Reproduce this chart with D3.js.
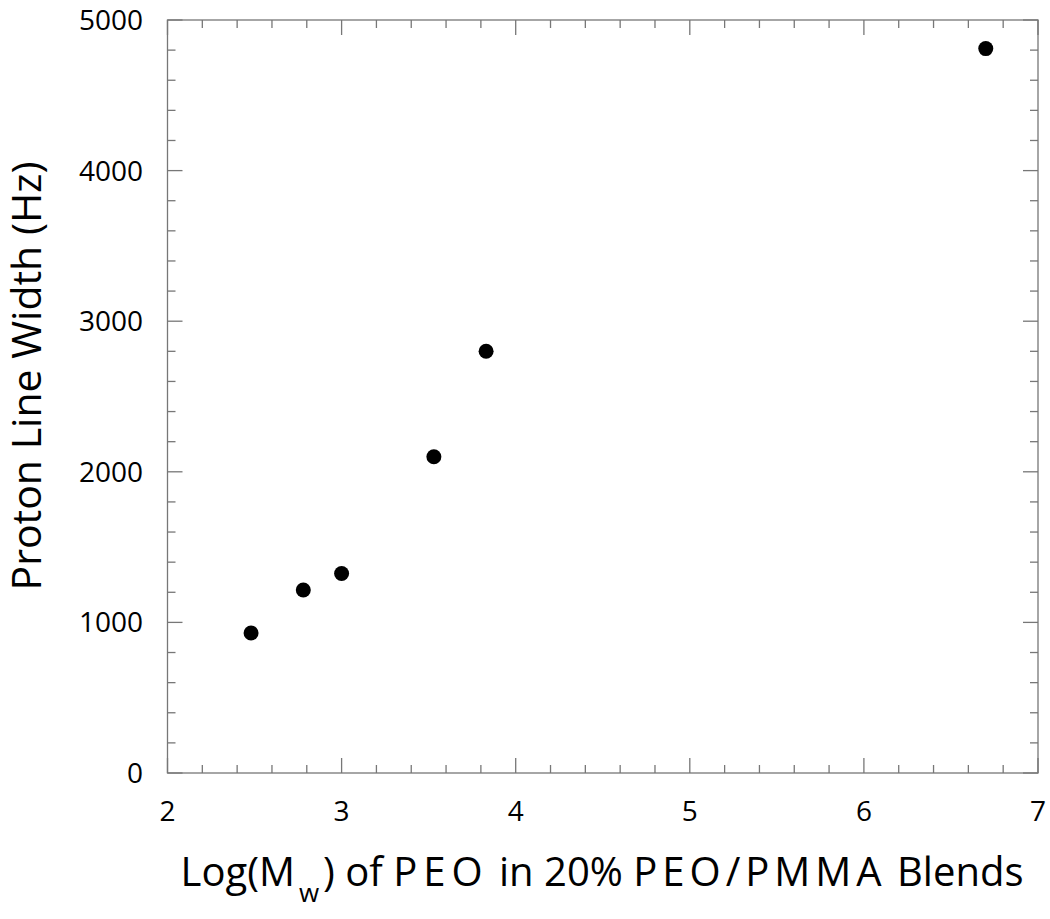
<!DOCTYPE html>
<html>
<head>
<meta charset="utf-8">
<script src="https://cdn.jsdelivr.net/npm/d3@7"></script>
<style>
  body { margin: 0; background: #fff; }
  svg { font-family: "Open Sans", "DejaVu Sans", sans-serif; }
</style>
</head>
<body>
<svg width="1050" height="919"></svg>
<script>
// data
var logMw = [2.48, 2.78, 3.0, 3.53, 3.83, 6.70];
var lineWidth = [930, 1215, 1325, 2100, 2800, 4810];
var xTicks = [2, 3, 4, 5, 6, 7];
var yTicks = [0, 1000, 2000, 3000, 4000, 5000];

var svg = d3.select("svg");
var pL = 167.5, pR = 1038, pT = 20, pB = 773;
var axisCol = "#777";

var x = d3.scaleLinear().domain([2, 7]).range([pL, pR]);
var y = d3.scaleLinear().domain([0, 5000]).range([pB, pT]);

// cadre
svg.append("rect").attr("x", pL).attr("y", pT)
  .attr("width", pR - pL).attr("height", pB - pT)
  .attr("fill", "none").attr("stroke", axisCol).attr("stroke-width", 1.3);

var majLen = 15, minLen = 8;
var xMinor = d3.range(2, 7.001, 0.2);
var yMinor = d3.range(0, 5000.1, 200);

// ticks x, bas et haut, vers l'interieur
xMinor.forEach(function(v) {
  var isMaj = Math.abs(v - Math.round(v)) < 1e-6;
  var len = isMaj ? majLen : minLen;
  svg.append("line").attr("x1", x(v)).attr("x2", x(v))
    .attr("y1", pB).attr("y2", pB - len)
    .attr("stroke", axisCol).attr("stroke-width", 1.3);
  svg.append("line").attr("x1", x(v)).attr("x2", x(v))
    .attr("y1", pT).attr("y2", pT + len)
    .attr("stroke", axisCol).attr("stroke-width", 1.3);
});

// ticks y, gauche et droite
yMinor.forEach(function(v) {
  var isMaj = v % 1000 === 0;
  var len = isMaj ? majLen : minLen;
  svg.append("line").attr("x1", pL).attr("x2", pL + len)
    .attr("y1", y(v)).attr("y2", y(v))
    .attr("stroke", axisCol).attr("stroke-width", 1.3);
  svg.append("line").attr("x1", pR).attr("x2", pR - len)
    .attr("y1", y(v)).attr("y2", y(v))
    .attr("stroke", axisCol).attr("stroke-width", 1.3);
});

// labels des ticks
svg.selectAll(".xl").data(xTicks).enter().append("text")
  .attr("x", function(d) { return x(d); }).attr("y", 821)
  .attr("text-anchor", "middle").attr("font-size", 28).attr("fill", "#000")
  .text(function(d) { return d; });

svg.selectAll(".yl").data(yTicks).enter().append("text")
  .attr("x", 143).attr("y", function(d) { return y(d) + 10; })
  .attr("text-anchor", "end").attr("font-size", 28).attr("fill", "#000")
  .text(function(d) { return d; });

// points
svg.selectAll(".pt").data(logMw).enter().append("circle")
  .attr("cx", function(d) { return x(d); })
  .attr("cy", function(d, i) { return y(lineWidth[i]); })
  .attr("r", 7.5).attr("fill", "#000");

// titres
svg.append("text")
  .attr("transform", "translate(41,376) rotate(-90)")
  .attr("text-anchor", "middle").attr("font-size", 41).attr("fill", "#000")
  .text("Proton Line Width (Hz)");

var xt = svg.append("text").attr("x", 602).attr("y", 886)
  .attr("text-anchor", "middle").attr("font-size", 40).attr("fill", "#000");
xt.append("tspan").text("Log(M");
xt.append("tspan").attr("font-size", 26).attr("dy", 16).attr("dx", 4).text("w");
xt.append("tspan").attr("dy", -16).attr("dx", 4).text(") of ");
xt.append("tspan").attr("letter-spacing", 6).text("PEO");
xt.append("tspan").text(" in 20% ");
xt.append("tspan").attr("letter-spacing", 5).text("PEO/PMMA");
xt.append("tspan").text(" Blends");
</script>
</body>
</html>
